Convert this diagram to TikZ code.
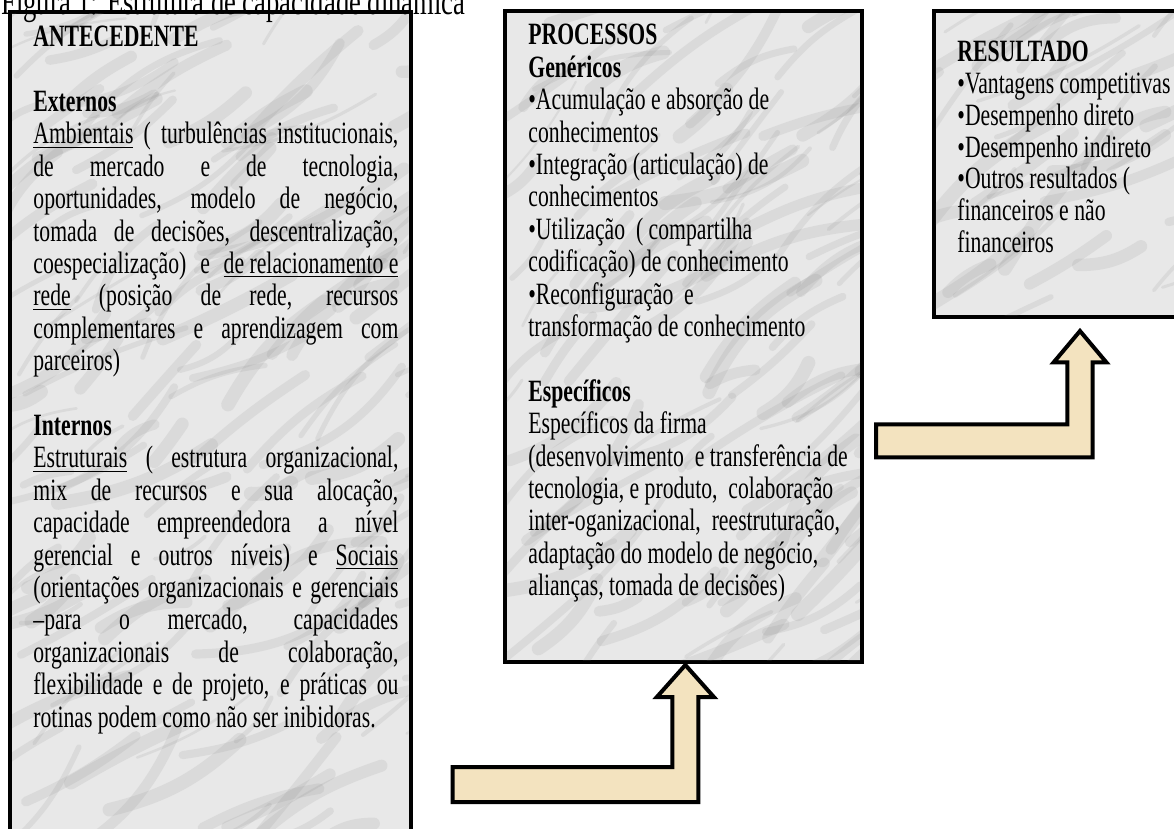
\documentclass[tikz,border=0pt]{standalone}
\usepackage{fontspec}
\setmainfont{Liberation Serif}[FakeStretch=0.70]
\usetikzlibrary{fit,calc}
\definecolor{parchment}{HTML}{F3E3BF}
\definecolor{marble}{HTML}{E8E8E8}

\newcommand{\panelfont}[1]{\fontsize{15.5}{#1}\selectfont
  \lineskiplimit=-\maxdimen \tolerance=9999 \hyphenpenalty=10000}

\begin{document}
\begin{tikzpicture}[x=0.5pt, y=-0.5pt,
  panel/.style={draw, line width=2pt, fill=marble, inner sep=0pt, outer sep=0pt},
  vein/.style={black!50, opacity=0.13, line cap=round},
  bentarrow/.style={draw, line width=2pt, fill=parchment, line join=miter},
  paneltext/.style={anchor=base west, inner sep=0pt}]
  \useasboundingbox (0,0) rectangle (1174,829);
  \clip (0,0) rectangle (1174,829);
  % Define panels
  \node[panel, fit={(10,12) (410.5,850)}] (ante) {};
  \node[panel, fit={(504.7,11.3) (862,662)}] (proc) {};
  \node[panel, fit={(933.7,11.3) (1226.3,317)}] (res) {};
  % marble veins
  \pgfmathsetseed{42}
  \foreach \xa/\ya/\xb/\yb/\n in {10/12/410.5/850/160, 504.7/11.3/862/662/120, 933.7/11.3/1226.3/317/55}{
    \begin{scope}
      \clip (\xa+2,\ya+2) rectangle (\xb-2,\yb-2);
      \foreach \k in {1,...,\n}{
        \pgfmathsetmacro{\vx}{\xa-40+rnd*(\xb-\xa+40)}
        \pgfmathsetmacro{\vy}{\ya+rnd*(\yb-\ya+40)}
        \pgfmathsetmacro{\vl}{40+rnd*140}
        \pgfmathsetmacro{\va}{15+rnd*40}
        \pgfmathsetmacro{\vb}{rnd*40-20}
        \pgfmathsetmacro{\vw}{1+rnd*6}
        \draw[vein, line width=\vw pt] (\vx,\vy)
          to[bend left=\vb] ++({\vl*cos(\va)},{-\vl*sin(\va)});
      }
    \end{scope}
  }
  % Title
  \node[paneltext, font=\fontsize{19}{20}\selectfont] (title) at (1,15)
    {Figura 1: Estrutura de capacidade dinâmica};
  % Panel texts
  \node[paneltext] (antetext) at (33,46.7) {\parbox[t]{182.5pt}{\panelfont{16.2pt}%
    {\bfseries ANTECEDENTE}\\[16.2pt]
    {\bfseries Externos}\\
    \underline{Ambientais} ( turbulências institucionais,\linebreak
    de mercado e de tecnologia,\linebreak
    oportunidades, modelo de negócio,\linebreak
    tomada de decisões, descentralização,\linebreak
    coespecialização) e \underline{de relacionamento e}\linebreak
    \underline{rede} (posição de rede, recursos\linebreak
    complementares e aprendizagem com\linebreak
    parceiros)\\[16.2pt]
    {\bfseries Internos}\\
    \underline{Estruturais} ( estrutura organizacional,\linebreak
    mix de recursos e sua alocação,\linebreak
    capacidade empreendedora a nível\linebreak
    gerencial e outros níveis) e \underline{Sociais}\linebreak
    (orientações organizacionais e gerenciais\linebreak
    –para o mercado, capacidades\linebreak
    organizacionais de colaboração,\linebreak
    flexibilidade e de projeto, e práticas ou\linebreak
    rotinas podem como não ser inibidoras.}};
  \node[paneltext] (proctext) at (528,45) {\parbox[t]{190pt}{\panelfont{16.2pt}\raggedright
    {\bfseries PROCESSOS}\\
    {\bfseries Genéricos}\\
    •Acumulação e absorção de\\
    conhecimentos\\
    •Integração (articulação) de\\
    conhecimentos\\
    •Utilização\ \ ( compartilha\\
    codificação) de conhecimento\\
    •Reconfiguração\ \ e\\
    transformação de conhecimento\\[16.2pt]
    {\bfseries Específicos}\\
    Específicos da firma\\
    (desenvolvimento\ \ e transferência de\\
    tecnologia, e produto,\ \ colaboração\\
    inter-oganizacional,\ \ reestruturação,\\
    adaptação do modelo de negócio,\\
    alianças, tomada de decisões)}};
  \node[paneltext] (restext) at (957,62) {\parbox[t]{150pt}{\panelfont{15.85pt}\raggedright
    {\bfseries RESULTADO}\\
    •Vantagens competitivas\\
    •Desempenho direto\\
    •Desempenho indireto\\
    •Outros resultados (\\
    financeiros e não\\
    financeiros}};
  % Bent arrows
  \draw[bentarrow] ($(proc.south)+(2,3)$) coordinate (tipA)
    -- ++(28.5,32) -- ++(-15.5,0) -- ++(0,105) -- ++(-245.7,0) -- ++(0,-35)
    -- ++(219.7,0) -- ++(0,-70) -- ++(-15.5,0) -- cycle;
  \draw[bentarrow] ($(res.south)+(0,14)$) coordinate (tipB)
    -- ++(26.3,31.3) -- ++(-13.65,0) -- ++(0,95) -- ++(-216.65,0) -- ++(0,-33)
    -- ++(191.35,0) -- ++(0,-62) -- ++(-13.65,0) -- cycle;
\end{tikzpicture}
\end{document}
